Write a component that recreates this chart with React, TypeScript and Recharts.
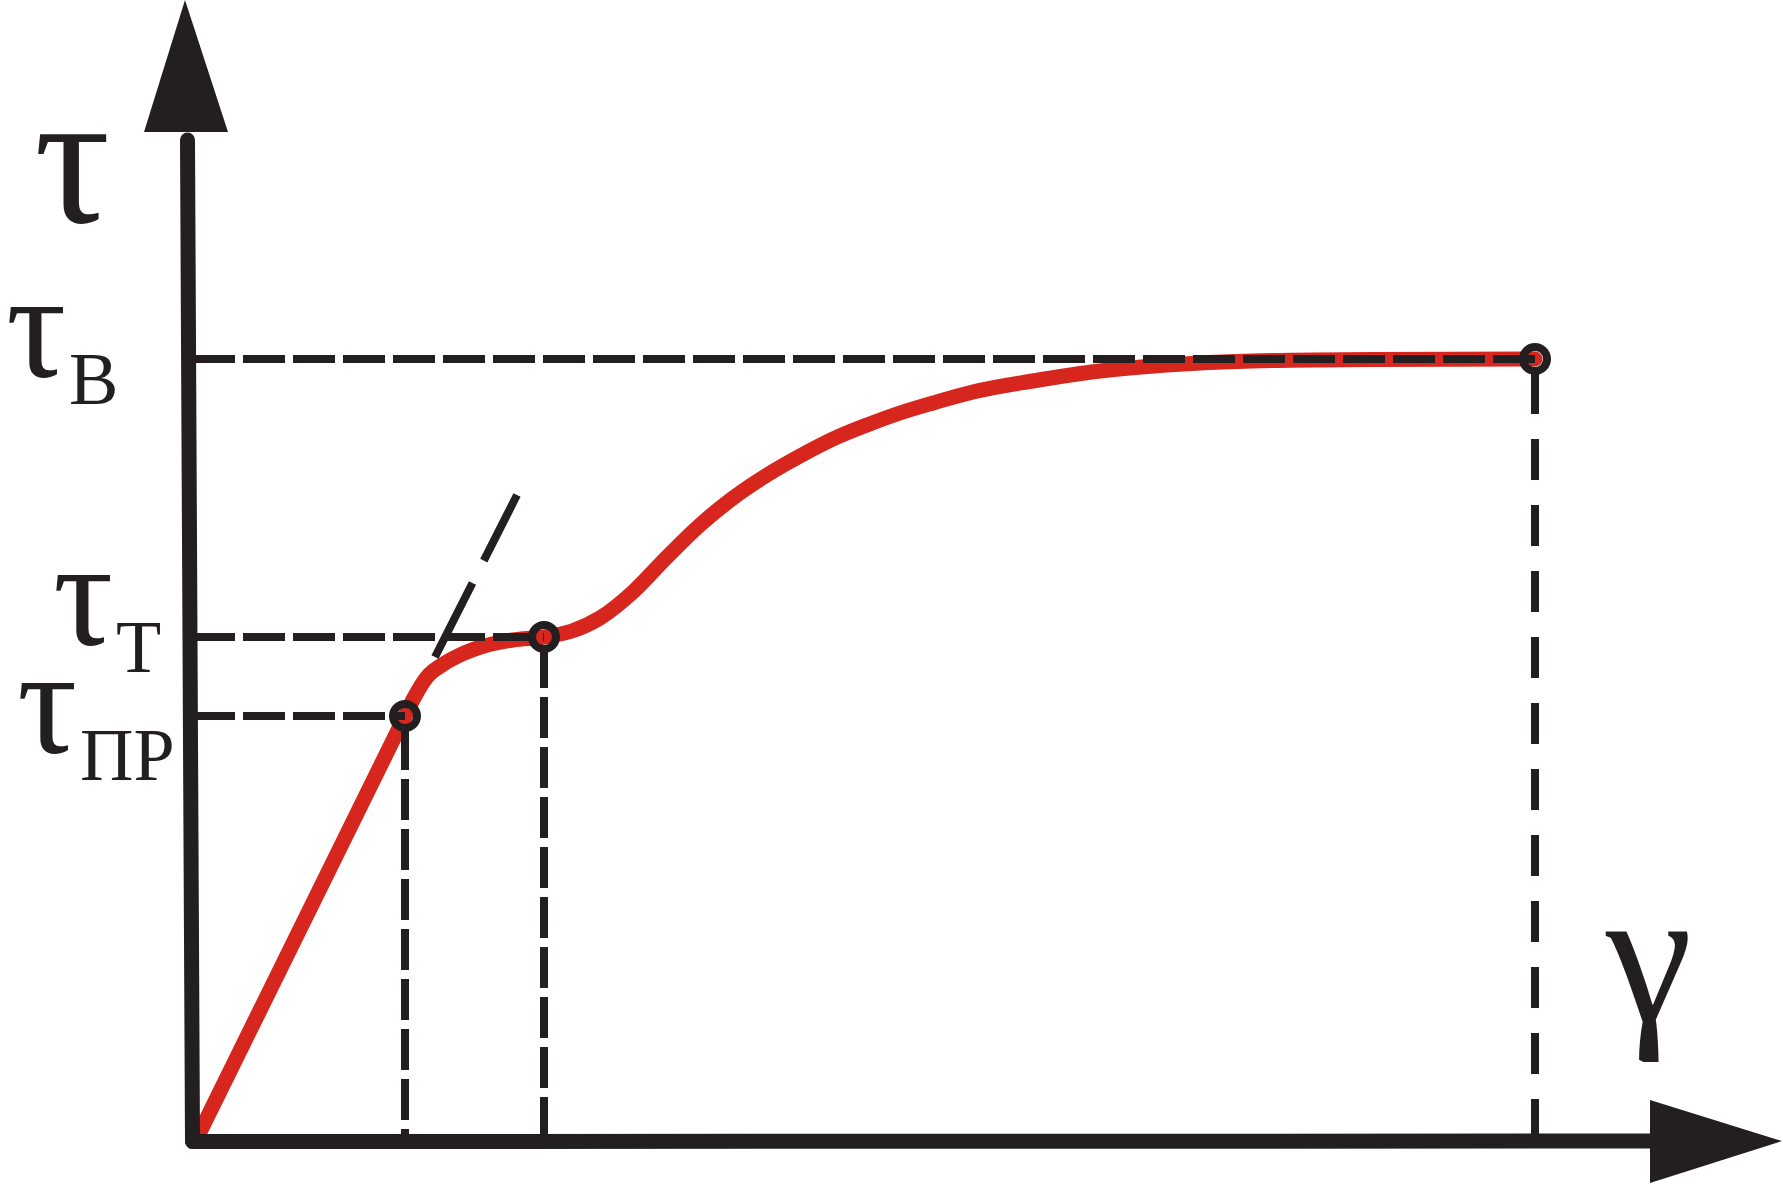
import React from 'react';
import { LineChart, Line, XAxis, YAxis, ReferenceLine, ReferenceDot } from 'recharts';

// straight elastic part (gamma, tau)
const linearGamma = [0.7, 21.3];
const linearTau = [0.7, 42.5];

// curved part after the proportional limit
const curveGamma = [21.3, 22.3, 23.5, 25.0, 26.8, 29.2, 32.1, 35.2, 38.0, 40.8, 44.1, 47.5, 50.8, 54.1, 57.5, 60.8, 64.1, 67.5, 70.8, 74.1, 78.1, 84.1, 90.8, 97.5, 106.0, 118.0, 134.3];
const curveTau = [42.5, 44.5, 46.4, 47.6, 48.6, 49.5, 50.1, 50.4, 51.0, 52.3, 54.9, 58.4, 61.6, 64.3, 66.6, 68.5, 70.2, 71.6, 72.8, 73.8, 74.9, 76.0, 77.0, 77.6, 78.0, 78.15, 78.2];

// characteristic points: τпр, τт, τв
const keyGamma = [21.3, 35.2, 134.3];
const keyTau = [42.5, 50.4, 78.2];
const keySubs = ['ПР', 'Т', 'В'];

// offset line parallel to the elastic part
const tangentGamma = [24.3, 32.5];
const tangentTau = [48.4, 64.6];

const RED = '#d7261e';
const INK = '#231f20';
const FONT = '"Liberation Serif", "Times New Roman", serif';

const linearData = linearGamma.map((g, i) => ({ g, t: linearTau[i] }));
const curveData = curveGamma.map((g, i) => ({ g, t: curveTau[i] }));

// label anchors (layout only)
const subLabelPos = [
  { x: -17.5, y: 38.8 },
  { x: -13.9, y: 49.6 },
  { x: -18.6, y: 76.4 },
];
const vStartGap = [1.3, 1.0, 1.4];
const vDash = ['41 9', '41 9', '41 25'];

const TauLabel = ({ cx, cy, sub }: any) => (
  <text x={cx} y={cy} fill={INK} fontFamily={FONT} fontSize={150}>
    τ
    <tspan x={cx + 63} dy={27} fontSize={74}>{sub}</tspan>
  </text>
);

const App: React.FC = () => {
  return (
    <div style={{ position: 'absolute', left: 0, top: 0, width: 1783, height: 1184, background: '#fff' }}>
      <LineChart
        width={1783}
        height={1184}
        margin={{ top: 0, right: 0, left: 192, bottom: 43 }}
      >
        <XAxis type="number" dataKey="g" domain={[0, 159.1]} allowDataOverflow hide height={0} />
        <YAxis type="number" dataKey="t" domain={[0, 114.1]} allowDataOverflow hide width={0} />

        <Line
          data={linearData}
          dataKey="t"
          type="linear"
          stroke={RED}
          strokeWidth={15}
          strokeLinecap="round"
          dot={false}
          activeDot={false}
          isAnimationActive={false}
        />
        <Line
          data={curveData}
          dataKey="t"
          type="monotone"
          stroke={RED}
          strokeWidth={15}
          strokeLinecap="round"
          dot={false}
          activeDot={false}
          isAnimationActive={false}
        />

        {keyGamma.map((g, i) => (
          <ReferenceLine
            key={`h${i}`}
            segment={[{ x: 0.1, y: keyTau[i] }, { x: g, y: keyTau[i] }]}
            stroke={INK}
            strokeWidth={8}
            strokeDasharray="42 8"
            ifOverflow="visible"
          />
        ))}
        {keyGamma.map((g, i) => (
          <ReferenceLine
            key={`v${i}`}
            segment={[{ x: g, y: keyTau[i] - vStartGap[i] }, { x: g, y: 0 }]}
            stroke={INK}
            strokeWidth={8}
            strokeDasharray={vDash[i]}
            ifOverflow="visible"
          />
        ))}
        <ReferenceLine
          segment={[{ x: tangentGamma[0], y: tangentTau[0] }, { x: tangentGamma[1], y: tangentTau[1] }]}
          stroke={INK}
          strokeWidth={8}
          strokeDasharray="83 25"
          ifOverflow="visible"
        />

        {keyGamma.map((g, i) => (
          <ReferenceDot
            key={`p${i}`}
            x={g}
            y={keyTau[i]}
            r={12}
            fill="none"
            stroke={INK}
            strokeWidth={8}
            ifOverflow="visible"
          />
        ))}

        {/* axes */}
        <ReferenceLine
          segment={[{ x: 0.05, y: -0.05 }, { x: -0.45, y: 100.1 }]}
          stroke={INK}
          strokeWidth={15}
          strokeLinecap="round"
          ifOverflow="visible"
        />
        <ReferenceLine
          segment={[{ x: 0.05, y: -0.05 }, { x: 146.8, y: 0 }]}
          stroke={INK}
          strokeWidth={15}
          strokeLinecap="round"
          ifOverflow="visible"
        />
        <ReferenceDot
          x={-0.6}
          y={100.9}
          ifOverflow="visible"
          shape={(p: any) => (
            <polygon points={`${p.cx - 42},${p.cy} ${p.cx + 42},${p.cy} ${p.cx - 1},${p.cy - 132}`} fill={INK} />
          )}
        />
        <ReferenceDot
          x={145.8}
          y={0}
          ifOverflow="visible"
          shape={(p: any) => (
            <polygon points={`${p.cx},${p.cy - 41} ${p.cx},${p.cy + 42} ${p.cx + 132},${p.cy}`} fill={INK} />
          )}
        />

        {/* axis titles */}
        <ReferenceDot
          x={-15.8}
          y={91.9}
          ifOverflow="visible"
          shape={(p: any) => (
            <text x={p.cx} y={p.cy} fontSize={190} fontFamily={FONT} fill={INK}>τ</text>
          )}
        />
        <ReferenceDot
          x={141.4}
          y={12.1}
          ifOverflow="visible"
          shape={(p: any) => (
            <text x={p.cx} y={p.cy} fontSize={195} fontFamily={FONT} fill={INK}>γ</text>
          )}
        />
        {keySubs.map((s, i) => (
          <ReferenceDot
            key={`l${i}`}
            x={subLabelPos[i].x}
            y={subLabelPos[i].y}
            ifOverflow="visible"
            shape={(p: any) => <TauLabel cx={p.cx} cy={p.cy} sub={s} />}
          />
        ))}
      </LineChart>
    </div>
  );
};

export default App;
